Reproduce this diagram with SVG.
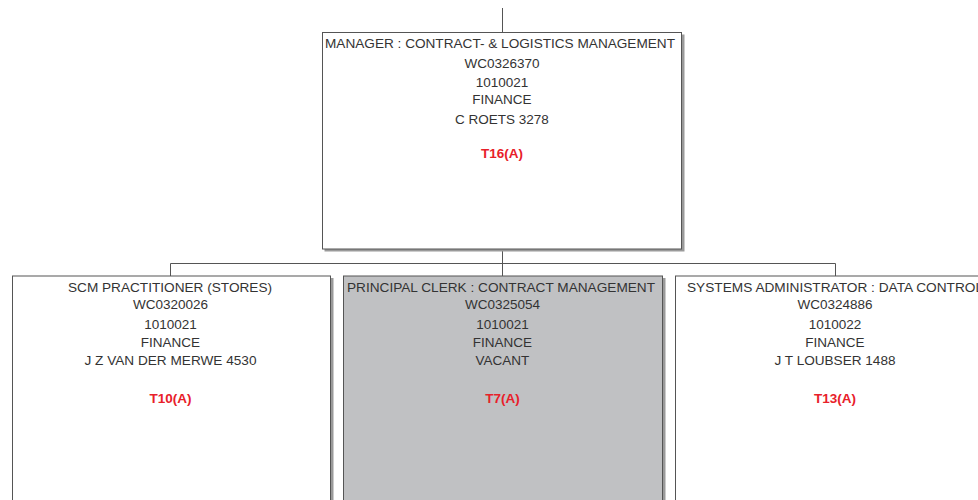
<svg xmlns="http://www.w3.org/2000/svg" width="978" height="500" viewBox="0 0 978 500">
<style>
.sh{fill:#9a9a9a;}
.bx{fill:#ffffff;stroke:#555555;stroke-width:1;}
.t{font-family:"Liberation Sans",Arial,sans-serif;font-size:13.5px;fill:#333333;text-anchor:middle;}
.r{font-family:"Liberation Sans",Arial,sans-serif;font-size:13.5px;font-weight:bold;fill:#e8202a;text-anchor:middle;}
.c{stroke:#555555;stroke-width:1;fill:none;}
</style>
<rect width="978" height="500" fill="#ffffff"/>
<g id="connectors">
<path class="c" d="M502.5 8V32.5"/>
<path class="c" d="M502.5 251V263.5"/>
<path class="c" d="M170.5 263.5H835.5"/>
<path class="c" d="M170.5 263.5V276"/>
<path class="c" d="M502.5 263.5V276"/>
<path class="c" d="M835.5 263.5V276"/>
</g>
<g id="node-manager">
<rect class="sh" x="324.5" y="34.5" width="360" height="217"/>
<rect class="bx" x="322.5" y="32.5" width="359" height="216.5"/>
<text class="t" x="500" y="48" textLength="350" lengthAdjust="spacingAndGlyphs">MANAGER : CONTRACT- &amp; LOGISTICS MANAGEMENT</text>
<text class="t" x="502" y="68">WC0326370</text>
<text class="t" x="502" y="87">1010021</text>
<text class="t" x="502" y="104">FINANCE</text>
<text class="t" x="502" y="124">C ROETS 3278</text>
<text class="r" x="502" y="158">T16(A)</text>
</g>
<g id="node-scm">
<rect class="sh" x="14.5" y="278" width="319" height="300"/>
<rect class="bx" x="12.5" y="276" width="318" height="300"/>
<text class="t" x="170" y="291.5" textLength="204" lengthAdjust="spacingAndGlyphs">SCM PRACTITIONER (STORES)</text>
<text class="t" x="170.5" y="309">WC0320026</text>
<text class="t" x="170.5" y="329">1010021</text>
<text class="t" x="170.5" y="347">FINANCE</text>
<text class="t" x="170.5" y="365" textLength="172" lengthAdjust="spacingAndGlyphs">J Z VAN DER MERWE 4530</text>
<text class="r" x="170.5" y="403">T10(A)</text>
</g>
<g id="node-clerk">
<rect class="sh" x="345.5" y="278" width="320" height="300"/>
<rect class="bx" x="343.5" y="276" width="319" height="300" style="fill:#c0c1c3"/>
<text class="t" x="501" y="291.5" textLength="308" lengthAdjust="spacingAndGlyphs">PRINCIPAL CLERK : CONTRACT MANAGEMENT</text>
<text class="t" x="502.5" y="309">WC0325054</text>
<text class="t" x="502.5" y="329">1010021</text>
<text class="t" x="502.5" y="347">FINANCE</text>
<text class="t" x="502.5" y="365">VACANT</text>
<text class="r" x="502.5" y="403">T7(A)</text>
</g>
<g id="node-sysadmin">
<rect class="sh" x="677.5" y="278" width="321" height="300"/>
<rect class="bx" x="675.5" y="276" width="320" height="300"/>
<text class="t" x="835" y="291.5" textLength="296" lengthAdjust="spacingAndGlyphs">SYSTEMS ADMINISTRATOR : DATA CONTROL</text>
<text class="t" x="835" y="309">WC0324886</text>
<text class="t" x="835" y="329">1010022</text>
<text class="t" x="835" y="347">FINANCE</text>
<text class="t" x="835" y="365" textLength="121" lengthAdjust="spacingAndGlyphs">J T LOUBSER 1488</text>
<text class="r" x="835" y="403">T13(A)</text>
</g>
</svg>
